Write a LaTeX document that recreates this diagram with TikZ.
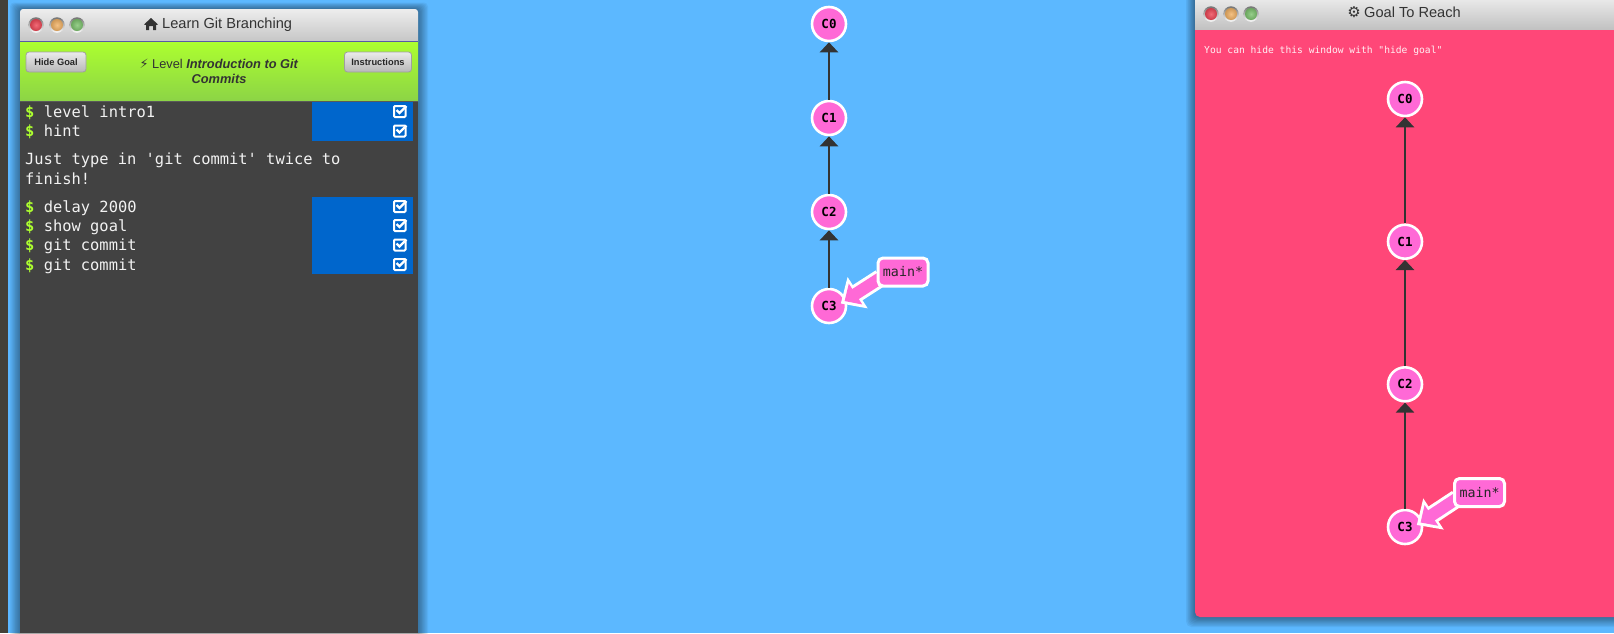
\documentclass[tikz,border=0pt]{standalone}
\usepackage{fontspec}
\setmainfont{Liberation Sans}
\setmonofont{DejaVu Sans Mono}
\newfontfamily\symfont{DejaVu Sans}
\usetikzlibrary{
    arrows.meta,
    positioning,
    calc
}
\definecolor{skyBg}{RGB}{92,184,255}
\definecolor{goalRed}{RGB}{255,71,120}
\definecolor{termGrey}{RGB}{66,66,66}
\definecolor{doneBlue}{RGB}{0,102,204}
\definecolor{dollarGreen}{RGB}{173,255,47}
\definecolor{levelGreen}{RGB}{140,212,70}
\definecolor{commitPink}{RGB}{255,105,214}
\definecolor{edgeDark}{RGB}{51,51,51}
\definecolor{lightRed}{RGB}{238,70,85}
\definecolor{lightAmber}{RGB}{242,178,100}
\definecolor{lightGreen}{RGB}{125,195,110}
\pgfdeclarelayer{toplabels}
\pgfsetlayers{main,toplabels}
\tikzset{
  commit/.style  = {draw=white, circle, line width=2.6pt, fill=commitPink,
                    minimum size=34pt, inner sep=0pt,
                    font=\ttfamily\bfseries\fontsize{12.5}{14}\selectfont},
  branch/.style  = {draw=white, rounded corners=5pt, line width=3pt,
                    fill=commitPink, minimum width=50pt, minimum height=28pt,
                    inner sep=0pt, text=black!85,
                    font=\ttfamily\fontsize{13.3}{16}\selectfont},
  parent/.style  = {-{Triangle[width=18pt,length=10pt]}, line width=2.8pt,
                    edgeDark},
  tipout/.style  = {-{Triangle[width=36pt,length=20pt]}, line width=18pt, white},
  tipin/.style   = {-{Triangle[width=24pt,length=13pt]}, line width=12pt,
                    commitPink, shorten >=4.5pt},
  term/.style    = {anchor=base west, inner sep=0pt, text=white!95!black,
                    font=\ttfamily\fontsize{15.4}{19}\selectfont},
  button/.style  = {draw=gray!75, rounded corners=3pt, line width=.8pt,
                    top color=white!92!black, bottom color=white!72!black,
                    minimum height=20pt, inner sep=0pt, text=black!85,
                    font=\bfseries\fontsize{9.3}{11}\selectfont},
  winrim/.style  = {circle, minimum size=15.5pt, inner sep=0pt,
                    top color=black!55, bottom color=white},
  winlight/.style = {circle, minimum size=12pt, inner sep=0pt},
  title/.style   = {inner sep=0pt, text=edgeDark,
                    font=\fontsize{14.6}{18}\selectfont}
}
\newcommand{\tick}[1]{%
  \draw[white, line width=2pt, rounded corners=1pt] ($(#1)+(-6,-5.5)$) rectangle ($(#1)+(5.5,5.5)$);
  \draw[white, line width=2.4pt] ($(#1)+(-3.5,-1.5)$) -- ($(#1)+(-.5,1.5)$) -- ($(#1)+(6.5,-5.5)$);
}

\begin{document}
\begin{tikzpicture}[x=1pt, y=-1pt, >=Stealth]
\useasboundingbox (0,0) rectangle (1614,633);

% backdrop
\fill[skyBg] (0,0) rectangle (1614,633);
\fill[black!85!yellow] (0,0) rectangle (8,633);

% window shadows
\foreach \s in {1,...,8}{
  \fill[black, opacity=.05, rounded corners=4pt] ({20-1.25*\s},{9-.8*\s}) rectangle ({418+1.25*\s},{645});
  \fill[black, opacity=.055, rounded corners=5pt] ({1195-1.1*\s},-15) rectangle ({1630},{617+1.25*\s});
}

% left window
\fill[termGrey] (20,100) rectangle (418,633);
\draw[top color=white!93!black, bottom color=white!76!black, rounded corners=3pt, draw=none]
    (20,9) rectangle (418,45);
\fill[top color=dollarGreen, bottom color=levelGreen] (20,41) rectangle (418,101);
\draw[gray!70!blue, line width=.7pt] (20,41) -- (418,41);
\draw[black!65, line width=.7pt] (20,101.5) -- (418,101.5);

\foreach \nm/\x/\y/\col in {redA/36/25/lightRed, amberA/57/25/lightAmber, greenA/77/25/lightGreen}{
  \node[winrim] (rim\nm) at (\x,\y) {};
  \node[winlight, inner color=\col!80!white, outer color=\col!85!black] (\nm) at (\x,\y) {};
}

\node[title, anchor=west] (titleA) at (162,24.5) {Learn Git Branching};
\fill[edgeDark] (144,24.5) -- (151,18) -- (158,24.5) -- (156,25) -- (156,30) -- (153,30) -- (153,26) -- (149,26)
    -- (149,30) -- (146,30) -- (146,25) -- cycle;

\node[button, minimum width=60pt] (hide) at (56,62) {Hide Goal};
\node[button, minimum width=67pt] (instr) at (378,62) {Instructions};
\node[inner sep=0pt, align=center, text=edgeDark, font=\fontsize{12.8}{14.6}\selectfont] (level) at (219,71.5)
    {{\symfont\bfseries\symbol{"26A1}} Level \textbf{\textit{Introduction to Git}}\\\textbf{\textit{Commits}}};

% terminal
\fill[doneBlue] (312,102) rectangle (413,141);
\fill[doneBlue] (312,197) rectangle (413,274);
\foreach \nm/\y/\cmd in {a/117/level intro1, b/136.5/hint, c/212/delay 2000,
    d/231/show goal, e/250.5/git commit, f/270/git commit}{
  \node[term, text=dollarGreen, font=\ttfamily\bfseries\fontsize{15.4}{19}\selectfont] (dollar\nm) at (25,\y) {\$};
  \node[term, right=9pt of dollar\nm.base east, anchor=base west] (cmd\nm) {\cmd};
  \coordinate (box\nm) at (400,\y-5.5);
  \tick{box\nm}
}
\node[term] (hintA) at (25,164) {Just type in 'git commit' twice to};
\node[term] (hintB) at (25,184) {finish!};

% goal window
\fill[goalRed, rounded corners=5pt] (1195,20) rectangle (1630,617);
\fill[top color=white!91!black, bottom color=white!76!black] (1195,0) rectangle (1614,29);
\foreach \nm/\x/\y/\col in {redB/1211/14/lightRed, amberB/1231/14/lightAmber, greenB/1251/14/lightGreen}{
  \node[winrim] (rim\nm) at (\x,\y) {};
  \node[winlight, inner color=\col!80!white, outer color=\col!85!black] (\nm) at (\x,\y) {};
}
\node[title, anchor=west] (titleB) at (1364,12.5) {Goal To Reach};
\node[inner sep=0pt, text=edgeDark, left=3pt of titleB, font=\symfont\bfseries\fontsize{15}{18}\selectfont] (gear) {\symbol{"2699}};
\node[anchor=base west, inner sep=0pt, text=white!92!goalRed, font=\ttfamily\fontsize{9.65}{12}\selectfont] (note)
    at (1204,53) {You can hide this window with "hide goal"};

% commits on the left
\node[commit] (c0) at (829,24) {C0};
\node[commit] (c1) at (829,118) {C1};
\node[commit] (c2) at (829,212) {C2};
\node[commit] (c3) at (829,306) {C3};
\draw[parent] (c1) -- (c0);
\draw[parent] (c2) -- (c1);
\draw[parent] (c3) -- (c2);

\begin{pgfonlayer}{toplabels}
\node[branch] (main) at (903,272) {main*};
\end{pgfonlayer}
\draw[tipout] (main.west) ++(4,6) -- ($(c3.east)+(-6.5,-2.5)$);
\draw[tipin] (main.west) ++(4,6) -- ($(c3.east)+(-6.5,-2.5)$);

% commits in the goal
\node[commit] (g0) at (1405,99) {C0};
\node[commit] (g1) at (1405,241.7) {C1};
\node[commit] (g2) at (1405,384.3) {C2};
\node[commit] (g3) at (1405,527) {C3};
\draw[parent] (g1) -- (g0);
\draw[parent] (g2) -- (g1);
\draw[parent] (g3) -- (g2);

\begin{pgfonlayer}{toplabels}
\node[branch] (goalmain) at (1479.5,492.5) {main*};
\end{pgfonlayer}
\draw[tipout] (goalmain.west) ++(4,6) -- ($(g3.east)+(-6.5,-2)$);
\draw[tipin] (goalmain.west) ++(4,6) -- ($(g3.east)+(-6.5,-2)$);

\end{tikzpicture}
\end{document}
